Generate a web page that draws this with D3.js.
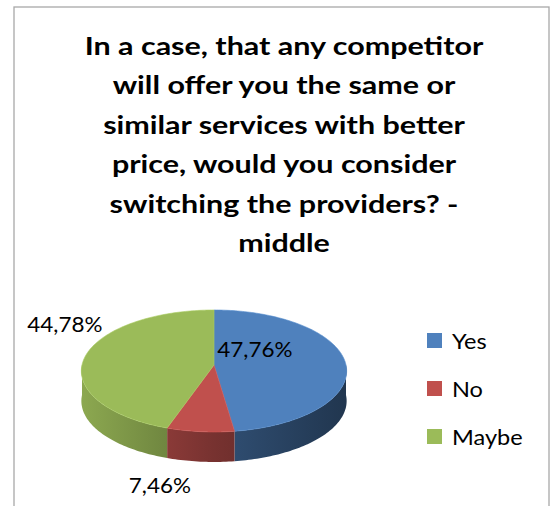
<!DOCTYPE html>
<html><head><meta charset="utf-8">
<script src="https://cdn.jsdelivr.net/npm/d3@7"></script>
<style>html,body{margin:0;padding:0;background:#fff;} svg{display:block}</style>
</head><body>
<svg id="chart" width="552" height="506"></svg>
<script>
// Survey answers (percent of respondents)
const categories = ["Yes", "No", "Maybe"];
const shares = [47.76, 7.46, 44.78];
const sliceColors = ["#4F81BD", "#C0504D", "#9BBB59"];
const valueLabels = ["47,76%", "7,46%", "44,78%"];
const titleLines = [
  "In a case, that any competitor",
  "will offer you the same or",
  "similar services with better",
  "price, would you consider",
  "switching the providers? -",
  "middle"
];

const W = 552, H = 506;
const FONT = "Lato, 'Open Sans', sans-serif";
const svg = d3.select("#chart");
const defs = svg.append("defs");

// place a text with a horizontal widening (the typeface runs a little wide)
function placeText(sel, x, y, sx) {
  sel.attr("x", 0).attr("y", 0)
    .attr("transform", (d, i) => `translate(${typeof x === "function" ? x(d, i) : x},${typeof y === "function" ? y(d, i) : y}) scale(${sx},1)`);
}

// chart frame
svg.append("rect").attr("x", 14).attr("y", 7).attr("width", 535).attr("height", 520)
  .attr("fill", "#fff").attr("stroke", "#a8a8a8").attr("stroke-width", 1.3);

// title
const title = svg.append("g").attr("font-family", FONT)
  .attr("font-weight", 700).attr("font-size", 24).attr("text-anchor", "middle").attr("fill", "#000");
title.selectAll("text").data(titleLines).join("text").text(d => d)
  .call(placeText, 284, (d, i) => 55 + i * 39.4, 1.27);

// 3D pie geometry (slight perspective: front rim larger than back)
const cx = 214, cy = 365, R = 132, RY = 60.4, P = 0.098, DEPTH = 30;
function proj(t, dy) {
  const s = 1 / (1 + P * Math.cos(t));
  return [cx + R * Math.sin(t) * s, cy - RY * Math.cos(t) * s + (dy || 0)];
}
function rim(a, b, dy) {
  const n = Math.max(2, Math.ceil(Math.abs(b - a) / 0.02));
  return d3.range(n + 1).map(i => proj(a + (b - a) * i / n, dy));
}

const data = categories.map((c, i) => ({ cat: c, v: shares[i], label: valueLabels[i] }));
const arcs = d3.pie().sort(null).value(d => d.v)(data);
const colorScale = d3.scaleOrdinal().domain(categories).range(sliceColors);

// side shading gradients: lit from the left, darker towards the right
arcs.forEach((a, i) => {
  const base = d3.rgb(colorScale(a.data.cat));
  const g = defs.append("linearGradient").attr("id", "side" + i)
    .attr("gradientUnits", "userSpaceOnUse")
    .attr("x1", cx - R).attr("x2", cx + R).attr("y1", 0).attr("y2", 0);
  [[0, 0.9], [0.5, 0.62], [1, 0.42]].forEach(([o, m]) => {
    g.append("stop").attr("offset", o)
      .attr("stop-color", d3.rgb(base.r * m, base.g * m, base.b * m).formatHex());
  });
});

const line = d3.line();
const pieG = svg.append("g");

// visible outer walls (front half only)
arcs.forEach((a, i) => {
  const s = Math.max(a.startAngle, Math.PI / 2), e = Math.min(a.endAngle, 3 * Math.PI / 2);
  if (e <= s) return;
  const pts = rim(s, e, 0).concat(rim(e, s, DEPTH));
  pieG.append("path").attr("d", line(pts) + "Z").attr("fill", `url(#side${i})`);
});

// top faces
arcs.forEach(a => {
  const pts = [[cx, cy]].concat(rim(a.startAngle, a.endAngle, 0));
  pieG.append("path").attr("d", line(pts) + "Z")
    .attr("fill", colorScale(a.data.cat))
    .attr("stroke", d3.rgb(colorScale(a.data.cat)).brighter(0.25)).attr("stroke-width", 0.6);
});

// data labels, placed relative to the pie's radii
const labelPlace = { Yes: [0.31, -0.25], No: [-0.41, 2.0], Maybe: [-1.13, -0.67] };
svg.append("g").attr("font-family", FONT).attr("font-size", 21)
  .attr("text-anchor", "middle").attr("fill", "#000")
  .selectAll("text").data(arcs).join("text")
  .attr("dy", "0.36em")
  .text(d => d.data.label)
  .call(placeText, d => cx + labelPlace[d.data.cat][0] * R, d => cy + labelPlace[d.data.cat][1] * RY, 1.07);

// legend
const legY = d3.scalePoint().domain(categories).range([333, 429]);
const leg = svg.append("g").attr("font-family", FONT).attr("font-size", 22).attr("fill", "#000");
const items = leg.selectAll("g").data(categories).join("g")
  .attr("transform", d => `translate(427,${legY(d)})`);
items.append("rect").attr("width", 15).attr("height", 15).attr("fill", d => colorScale(d));
items.append("text").text(d => d).call(placeText, 25, 15.5, 1.07);
</script>
</body></html>
